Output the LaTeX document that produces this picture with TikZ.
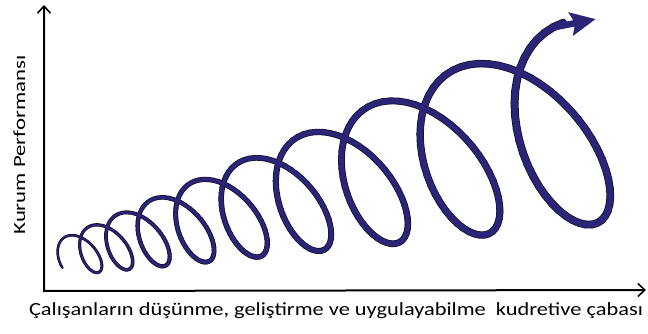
\documentclass[tikz,border=0pt]{standalone}
\usepackage{fontspec}
\setmainfont{Carlito}
\usetikzlibrary{arrows.meta}
\definecolor{espiral}{RGB}{44,36,118}
\definecolor{borde}{RGB}{20,16,50}
\tikzset{
  eje/.style={line width=2pt,{Straight Barb[length=7pt,width=13pt,line width=1.6pt]}-{Straight Barb[length=7pt,width=13pt,line width=1.6pt]}},
  declare function={
    gr(\s)=1.2^(\s-0.5);
    cx(\s)=-52.2+116.9*gr(\s);
    cy(\s)=287.3-29.5*gr(\s);
    rr(\s)=19.2*gr(\s);
    px(\s)=cx(\s)+rr(\s)*(-0.515*cos(360*\s)+0.6*0.857*sin(360*\s));
    py(\s)=cy(\s)+rr(\s)*(-0.857*cos(360*\s)-0.6*0.515*sin(360*\s));
  }
}
\newcommand{\espiral}[2]{%
  \foreach \i in {0,...,465} {
    \pgfmathsetmacro\sa{0.70+0.02*\i}
    \pgfmathsetmacro\sb{\sa+0.02}
    \pgfmathsetmacro\ancho{1.3+0.6*(\sa-0.7)+#2}
    \draw[#1,line width=\ancho pt,line cap=round] ({px(\sa)},{py(\sa)}) -- ({px(\sb)},{py(\sb)});
  }}
\begin{document}
\begin{tikzpicture}[x=1pt,y=-1pt]
    \useasboundingbox (0,0) rectangle (648,334);
    \coordinate (O) at (44,291);
    \coordinate (ytope) at (44,5);
    \coordinate (xfin) at (646,290);
    \draw[eje] (ytope) -- (O) -- (xfin);
    \node[rotate=90,xscale=1.34,anchor=base,font=\fontsize{17}{20}\selectfont] (ylab) at (25,145) {Kurum Performansı};
    \node[xscale=1.21,anchor=base,font=\fontsize{18.5}{22}\selectfont] (xlab) at (336,315) {Çalışanların düşünme, geliştirme ve uygulayabilme\ \ kudretive çabası};
    % Espiral creciente: primero el borde oscuro, luego el relleno.
    \espiral{borde}{1.2}
    \espiral{espiral}{-0.4}
    \coordinate (flechaA) at ({px(10.0)},{py(10.0)});
    \coordinate (flecha) at ({px(10.08)},{py(10.08)});
    \draw[espiral,line width=6.5pt,-{Stealth[length=25pt,width=23pt,inset=4pt]}] (flechaA) -- (flecha);
\end{tikzpicture}
\end{document}
